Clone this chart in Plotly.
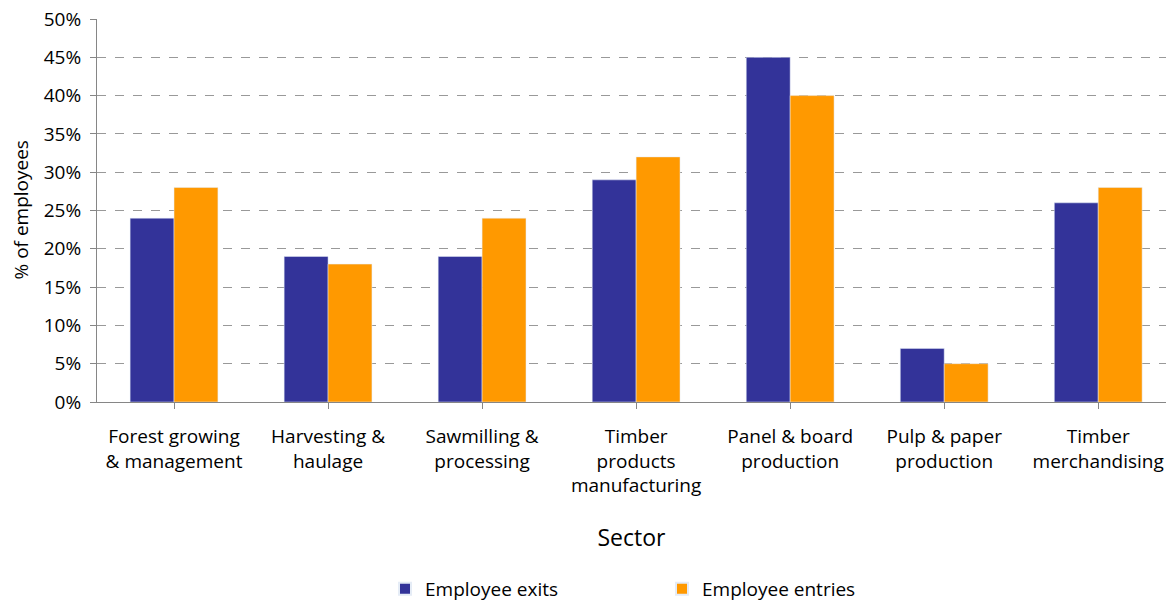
import plotly.graph_objects as go

sectors = ["Forest growing<br>& management", "Harvesting &<br>haulage", "Sawmilling &<br>processing",
           "Timber<br>products<br>manufacturing", "Panel & board<br>production", "Pulp & paper<br>production",
           "Timber<br>merchandising"]
exits = [24, 19, 19, 29, 45, 7, 26]
entries = [28, 18, 24, 32, 40, 5, 28]
yticks = [0, 5, 10, 15, 20, 25, 30, 35, 40, 45, 50]
ytick_labels = [f"{v}%" for v in yticks]

FONT = "Open Sans"
fig = go.Figure()
fig.add_trace(go.Bar(x=list(range(len(sectors))), y=exits, name="Employee exits", marker_color="#333399"))
fig.add_trace(go.Bar(x=list(range(len(sectors))), y=entries, name="Employee entries", marker_color="#FF9900"))

fig.update_layout(
    width=1166, height=602,
    margin=dict(l=97, r=0, t=19, b=200, autoexpand=False),
    plot_bgcolor="white", paper_bgcolor="white",
    barmode="group", bargap=0.43, bargroupgap=0,
    font=dict(family=FONT, size=19, color="black"),
    legend=dict(orientation="h", xref="container", x=385/1166, xanchor="left",
                yref="paper", y=(402-589)/383, yanchor="middle",
                entrywidth=232, entrywidthmode="pixels",
                font=dict(size=19), itemsizing="constant"),
    xaxis=dict(tickmode="array", tickvals=list(range(len(sectors))), ticktext=sectors,
               range=[-0.5, 6.44], showline=True, linecolor="#868686", linewidth=1,
               ticks="outside", tickson="boundaries", ticklen=6, tickcolor="#868686",
               ticklabelstandoff=11, tickangle=0,
               showgrid=False, title=dict(text="Sector", standoff=32)),
    yaxis=dict(range=[0, 50], tickmode="array", tickvals=yticks, ticktext=ytick_labels,
               showline=True, linecolor="#868686", linewidth=1, ticks="outside", ticklen=6,
               tickcolor="#868686", showgrid=True, gridcolor="#999999", griddash="dash",
               ticklabelstandoff=5,
               gridwidth=1, zeroline=False),
)
fig.add_annotation(text="% of employees", textangle=-90, xref="paper", yref="paper",
                   x=(20 - 97) / 1069, y=0.5, xanchor="center", yanchor="middle",
                   showarrow=False, font=dict(size=19))
fig.write_html("out.html")
